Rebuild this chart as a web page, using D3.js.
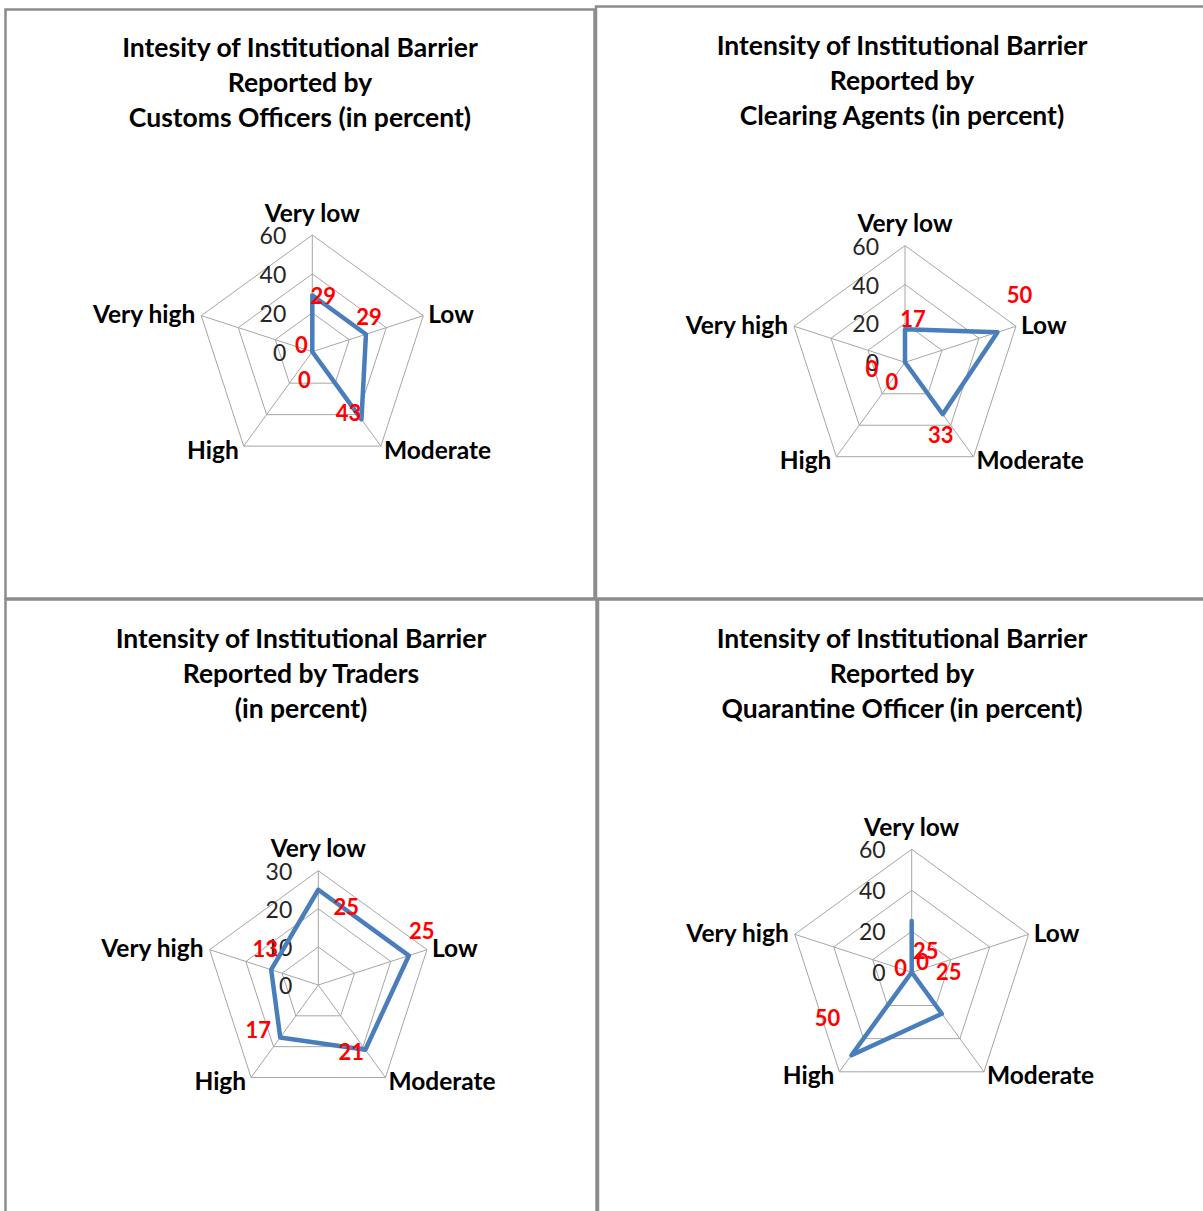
<!DOCTYPE html>
<html>
<head>
<meta charset="utf-8">
<script src="https://cdn.jsdelivr.net/npm/d3@7"></script>
<style>
  html, body { margin: 0; padding: 0; background: #fff; }
  svg { display: block; }
  text { font-family: Lato, "Noto Sans", sans-serif; }
</style>
</head>
<body>
<svg id="chart" width="1203" height="1211"></svg>
<script>
// Radar axes shared by all four charts
const categories = ["Very low", "Low", "Moderate", "High", "Very high"];

// Reported intensity per respondent group (percent)
const customsValues    = [29, 29, 43, 0, 0];
const clearingValues   = [17, 50, 33, 0, 0];
const tradersValues    = [25, 25, 21, 17, 13];
const quarantineValues = [25, 0, 25, 50, 0];

// Radial axis ticks
const ticksTo60 = [0, 20, 40, 60];
const ticksTo30 = [0, 10, 20, 30];

// Chart titles, one line per entry
const customsTitle    = ["Intesity of Institutional Barrier", "Reported by", "Customs Officers (in percent)"];
const clearingTitle   = ["Intensity of Institutional Barrier", "Reported by", "Clearing Agents (in percent)"];
const tradersTitle    = ["Intensity of Institutional Barrier", "Reported by Traders", "(in percent)"];
const quarantineTitle = ["Intensity of Institutional Barrier", "Reported by", "Quarantine Officer (in percent)"];

// Layout of each panel: frame, title anchor, radar centre/radius and
// the nudges applied to each value label
const panels = [
  { values: customsValues, ticks: ticksTo60, title: customsTitle,
    frame: [5.5, 9.5, 589, 589], titleX: 300, titleY: 47,
    cx: 312.3, cy: 351.7, r: 116.7,
    nudge: [[11, 0], [3, -18], [-13, -7], [-8, 28], [-11, -7]] },
  { values: clearingValues, ticks: ticksTo60, title: clearingTitle,
    frame: [596, 6.5, 640, 592], titleX: 902, titleY: 45,
    cx: 905, cy: 362.3, r: 116.7,
    nudge: [[8, -11], [22, -38], [-2, 20], [-13, 19], [-33, 6]] },
  { values: tradersValues, ticks: ticksTo30, title: tradersTitle,
    frame: [5.5, 599.5, 591, 640], titleX: 301, titleY: 638,
    cx: 318.3, cy: 985, r: 114.3,
    nudge: [[28, 17], [13, -25], [-14, 2], [-22, -8], [-6, -21]] },
  { values: quarantineValues, ticks: ticksTo60, title: quarantineTitle,
    frame: [598, 599.5, 640, 640], titleX: 902, titleY: 638,
    cx: 911.7, cy: 972.3, r: 123,
    nudge: [[14, 29], [11, -11], [7, -42], [-24, -38], [-11, -5]] }
];

const svg = d3.select("#chart");

// Panel frames
panels.forEach(p => {
  svg.append("rect")
    .attr("x", p.frame[0]).attr("y", p.frame[1])
    .attr("width", p.frame[2]).attr("height", p.frame[3])
    .attr("fill", "none")
    .attr("stroke", "#8c8c8c")
    .attr("stroke-width", 2.5);
});

const angle = d3.scaleLinear().domain([0, categories.length]).range([0, 2 * Math.PI]);

panels.forEach(p => {
  const g = svg.append("g");
  const maxV = d3.max(p.ticks);
  const rScale = d3.scaleLinear().domain([0, maxV]).range([0, p.r]);
  const pt = (i, v) => {
    const a = angle(i);
    return [p.cx + rScale(v) * Math.sin(a), p.cy - rScale(v) * Math.cos(a)];
  };

  // Title
  g.append("text")
    .attr("x", p.titleX).attr("y", p.titleY)
    .attr("text-anchor", "middle")
    .attr("font-size", 26.5).attr("font-weight", 700)
    .attr("fill", "#000")
    .selectAll("tspan").data(p.title).join("tspan")
    .attr("x", p.titleX)
    .attr("y", (d, i) => p.titleY + i * 35)
    .attr("dominant-baseline", "central")
    .text(d => d);

  // Polygon gridlines
  p.ticks.filter(t => t > 0).forEach(t => {
    g.append("polygon")
      .attr("points", categories.map((c, i) => pt(i, t).join(",")).join(" "))
      .attr("fill", "none").attr("stroke", "#a6a6a6").attr("stroke-width", 1);
  });

  // Spokes
  categories.forEach((c, i) => {
    const [x, y] = pt(i, maxV);
    g.append("line")
      .attr("x1", p.cx).attr("y1", p.cy).attr("x2", x).attr("y2", y)
      .attr("stroke", "#a6a6a6").attr("stroke-width", 1);
  });

  // Radial tick labels
  g.selectAll(".tick").data(p.ticks).join("text")
    .attr("x", p.cx - 26)
    .attr("y", d => p.cy - rScale(d))
    .attr("text-anchor", "end")
    .attr("dominant-baseline", "central")
    .attr("font-size", 23)
    .attr("fill", "#262626")
    .text(d => d);

  // Category labels around the outside
  const catPlace = [
    { dx: 0, dy: -23, anchor: "middle" },
    { dx: 5, dy: -2, anchor: "start" },
    { dx: 3, dy: 3, anchor: "start" },
    { dx: -5, dy: 3, anchor: "end" },
    { dx: -6, dy: -2, anchor: "end" }
  ];
  categories.forEach((c, i) => {
    const [x, y] = pt(i, maxV);
    g.append("text")
      .attr("x", x + catPlace[i].dx).attr("y", y + catPlace[i].dy)
      .attr("text-anchor", catPlace[i].anchor)
      .attr("dominant-baseline", "central")
      .attr("font-size", 24.5).attr("font-weight", 700)
      .attr("fill", "#000")
      .text(c);
  });

  // Series line
  const radial = d3.lineRadial()
    .angle((d, i) => angle(i))
    .radius(d => rScale(d))
    .curve(d3.curveLinearClosed);
  g.append("path")
    .attr("transform", `translate(${p.cx},${p.cy})`)
    .attr("d", radial(p.values))
    .attr("fill", "none")
    .attr("stroke", "#4a7ebb")
    .attr("stroke-width", 4.5)
    .attr("stroke-linejoin", "round");

  // Value labels
  p.values.forEach((v, i) => {
    const [x, y] = pt(i, v);
    g.append("text")
      .attr("x", x + p.nudge[i][0]).attr("y", y + p.nudge[i][1])
      .attr("text-anchor", "middle")
      .attr("dominant-baseline", "central")
      .attr("font-size", 22).attr("font-weight", 700)
      .attr("fill", "#ff0000")
      .text(v);
  });
});
</script>
</body>
</html>
